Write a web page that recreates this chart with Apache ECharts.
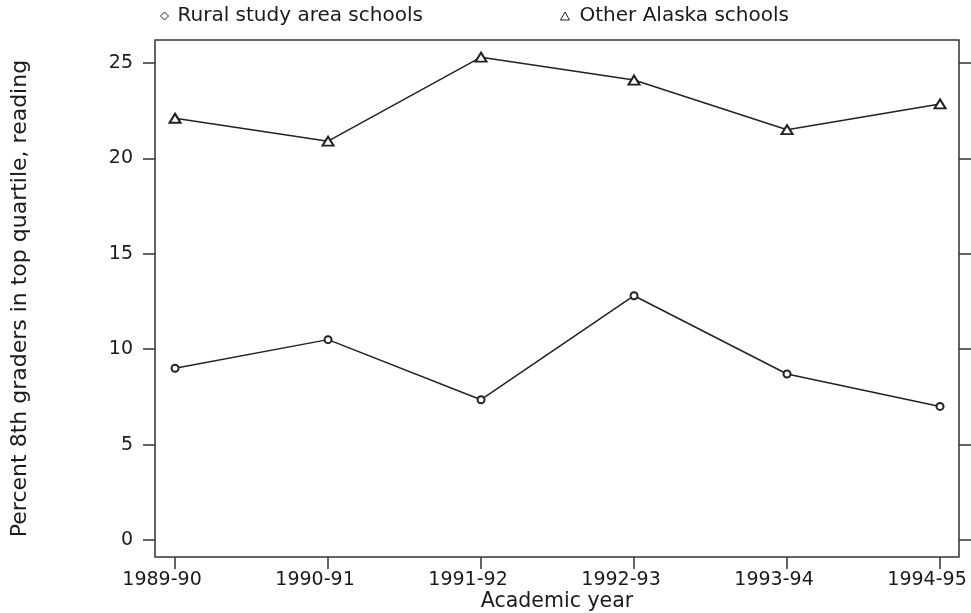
<!DOCTYPE html>
<html>
<head>
<meta charset="utf-8">
<script src="https://cdn.jsdelivr.net/npm/echarts@6/dist/echarts.min.js"></script>
<style>
html,body{margin:0;padding:0;background:#fff;}
#chart{width:971px;height:613px;}
</style>
</head>
<body>
<div id="chart"></div>
<script>
const categories = ['1989-90', '1990-91', '1991-92', '1992-93', '1993-94', '1994-95'];
const ruralValues = [9.0, 10.5, 7.35, 12.8, 8.7, 7.0];
const alaskaValues = [22.1, 20.9, 25.3, 24.1, 21.5, 22.85];
const yTicks = [0, 5, 10, 15, 20, 25];
const seriesNames = ['Rural study area schools', 'Other Alaska schools'];
const xTitle = 'Academic year';
const yTitle = 'Percent 8th graders in top quartile, reading';

const xTickValues = categories.map((c, i) => i);
const toPairs = vals => vals.map((v, i) => [i, v]);

const FONT = 'DejaVu Sans';
const TXT = '#1a1a1a';
const LINE = '#222';

const chart = echarts.init(document.getElementById('chart'), null, {renderer: 'canvas'});
chart.setOption({
  backgroundColor: '#fff',
  animation: false,
  grid: {left: 155, right: 12, top: 40, bottom: 56, show: true, borderColor: '#333', borderWidth: 1.5,
    backgroundColor: 'transparent', containLabel: false, outerBoundsMode: 'none'},
  legend: [
    {
      data: [{name: seriesNames[0], icon: 'diamond', itemStyle: {color: '#fff', borderColor: '#222', borderWidth: 1}}],
      left: 160, top: 6, padding: 0, itemWidth: 8, itemHeight: 8,
      textStyle: {fontFamily: FONT, fontSize: 20, color: TXT, padding: [0, 0, 0, 4]}
    },
    {
      data: [{name: seriesNames[1], icon: 'triangle', itemStyle: {color: '#fff', borderColor: '#222', borderWidth: 1}}],
      left: 560, top: 6, padding: 0, itemWidth: 9, itemHeight: 8,
      textStyle: {fontFamily: FONT, fontSize: 20, color: TXT, padding: [0, 0, 0, 5]}
    }
  ],
  xAxis: [{
    type: 'value', min: -0.131, max: 5.124, position: 'bottom',
    name: xTitle, nameLocation: 'middle', nameGap: 34, nameMoveOverlap: false,
    nameTextStyle: {fontFamily: FONT, fontSize: 20.5, color: TXT},
    axisLine: {show: false, onZero: false},
    splitLine: {show: false},
    axisTick: {show: true, length: 12, lineStyle: {color: '#333', width: 1.5}, customValues: xTickValues},
    axisLabel: {fontFamily: FONT, fontSize: 19, color: TXT, margin: 14, customValues: xTickValues,
      padding: [0, 26, 0, 0],
      formatter: v => categories[Math.round(v)] || ''}
  }],
  yAxis: [{
    type: 'value', min: -0.89, max: 26.2, position: 'left',
    name: yTitle, nameLocation: 'middle', nameGap: 124, nameRotate: 90, nameMoveOverlap: false,
    nameTextStyle: {fontFamily: FONT, fontSize: 22, color: TXT},
    axisLine: {show: false, onZero: false},
    splitLine: {show: false},
    axisTick: {show: true, length: 12, lineStyle: {color: '#333', width: 1.5}, customValues: yTicks},
    axisLabel: {fontFamily: FONT, fontSize: 19, color: TXT, margin: 22, customValues: yTicks}
  }, {
    type: 'value', min: -0.89, max: 26.2, position: 'right',
    axisLine: {show: false, onZero: false},
    splitLine: {show: false},
    axisTick: {show: true, length: 12, lineStyle: {color: '#333', width: 1.5}, customValues: yTicks},
    axisLabel: {show: false}
  }],
  series: [
    {
      name: seriesNames[0], type: 'line', data: toPairs(ruralValues),
      symbol: 'emptyCircle', symbolSize: 7,
      lineStyle: {color: LINE, width: 1.5},
      itemStyle: {color: '#222', borderColor: '#222', borderWidth: 1}
    },
    {
      name: seriesNames[1], type: 'line', data: toPairs(alaskaValues),
      symbol: 'emptyTriangle', symbolSize: [11, 9],
      lineStyle: {color: LINE, width: 1.5},
      itemStyle: {color: '#222', borderColor: '#222', borderWidth: 1}
    }
  ]
});
</script>
</body>
</html>
